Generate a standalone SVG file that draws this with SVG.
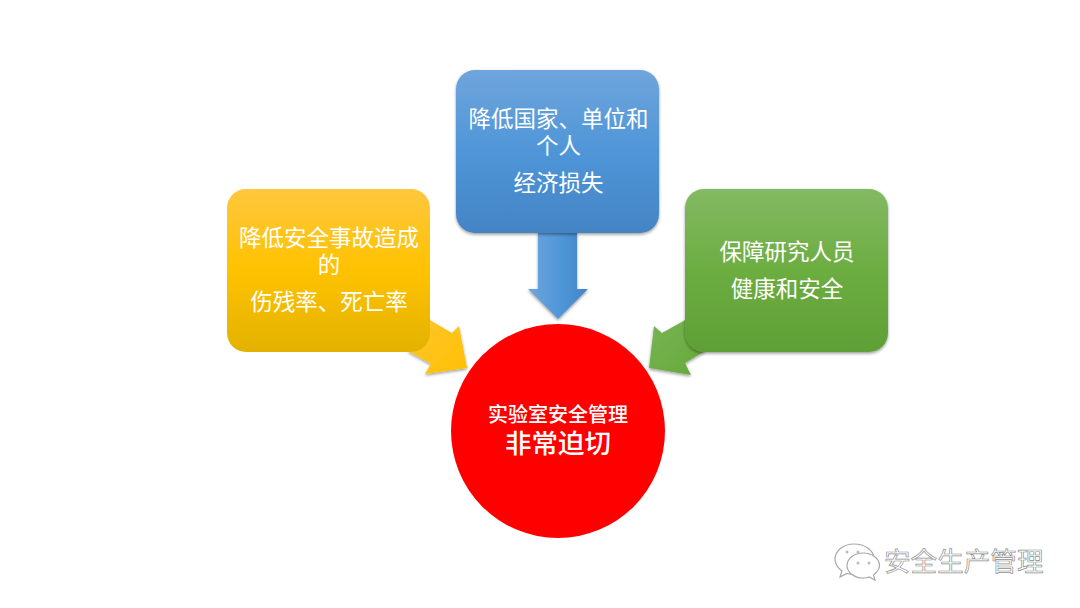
<svg xmlns="http://www.w3.org/2000/svg" width="1080" height="608" viewBox="0 0 1080 608">
<style>
text{font-family:"Liberation Serif","Noto Sans CJK SC",serif;fill:#fff;text-anchor:middle}
.t{font-size:22.5px}
.wm{fill:#fff;stroke:#a8a8a8;stroke-width:1.2}
.wt{font-family:"Noto Sans CJK SC",sans-serif;font-size:26.6px;fill:#fff;stroke:#8f8f8f;stroke-width:.7;text-anchor:start}
</style>
<defs>
<linearGradient id="y" x1="0" y1="0" x2="0" y2="1"><stop offset="0" stop-color="#ffc73f"/><stop offset=".5" stop-color="#ffc200"/><stop offset="1" stop-color="#e3b200"/></linearGradient>
<linearGradient id="b" x1="0" y1="0" x2="0" y2="1"><stop offset="0" stop-color="#6fa5dc"/><stop offset=".5" stop-color="#4f96d8"/><stop offset="1" stop-color="#4484c4"/></linearGradient>
<linearGradient id="g" x1="0" y1="0" x2="0" y2="1"><stop offset="0" stop-color="#83b963"/><stop offset=".5" stop-color="#6cad41"/><stop offset="1" stop-color="#5f9f36"/></linearGradient>
<linearGradient id="by" x1="0" y1="0" x2="1" y2="1"><stop offset="0" stop-color="#ffc530"/><stop offset="1" stop-color="#ffc000"/></linearGradient>
<linearGradient id="bb" x1="0" y1="0" x2="1" y2="0"><stop offset="0" stop-color="#6fa5dc"/><stop offset=".55" stop-color="#4f96d8"/><stop offset="1" stop-color="#4484c4"/></linearGradient>
<linearGradient id="bg" x1="0" y1="0" x2="1" y2="1"><stop offset="0" stop-color="#78b454"/><stop offset="1" stop-color="#66a93a"/></linearGradient>
<filter id="s" x="-10%" y="-10%" width="120%" height="120%"><feDropShadow dx="0" dy="1.500" stdDeviation="1.500" flood-color="#000" flood-opacity=".4"/></filter>
</defs>
<g id="connectors">
<path d="M428 319L452 333L459 326L467 368L425 374L431 364L408 351Z" fill="url(#by)" filter="url(#s)"/>
<path d="M538 232H577V289H588L558 319L528 289H538Z" fill="url(#bb)" filter="url(#s)"/>
<path d="M687 319L662 333L654 326L649 368L691 375L685 363L705 351Z" fill="url(#bg)" filter="url(#s)"/>
</g>
<g id="node-yellow">
<rect x="227" y="189" width="203" height="163" rx="19" fill="url(#y)"/>
<text class="t" x="329" y="246">降低安全事故造成</text>
<text class="t" x="329" y="273">的</text>
<text class="t" x="329" y="310">伤残率、死亡率</text>
</g>
<g id="node-blue">
<rect x="456" y="70" width="203" height="163" rx="19" fill="url(#b)" filter="url(#s)"/>
<text class="t" x="558.500" y="127">降低国家、单位和</text>
<text class="t" x="558.500" y="154">个人</text>
<text class="t" x="558.500" y="191">经济损失</text>
</g>
<g id="node-green">
<rect x="685" y="189" width="203" height="163" rx="19" fill="url(#g)" filter="url(#s)"/>
<text class="t" x="787" y="260">保障研究人员</text>
<text class="t" x="787" y="297">健康和安全</text>
</g>
<g id="node-red">
<circle cx="558" cy="431" r="107" fill="#f00"/>
<text x="558" y="422" font-size="20" font-weight="500">实验室安全管理</text>
<text x="558" y="453" font-size="26.500" font-weight="500">非常迫切</text>
</g>
<g id="watermark">
<path class="wm" d="M854 544c-11 0-19 7-19 15 0 5 3 9 7 12l-2 6 7-3.500c3 1 5 1 8 1 10 0 19-7 19-15.500s-9-15-20-15z"/>
<path class="wm" d="M863 553c-9 0-16 6-16 12.500s7 12.500 16 12.500c2 0 4 0 6-1l6 3-1.500-5c3-2.500 6-5.500 6-9.500 0-6.500-7-12.500-16.500-12.500z"/>
<circle cx="847" cy="552" r="1.500" fill="#bbb"/><circle cx="858" cy="552" r="1.500" fill="#bbb"/>
<circle cx="858" cy="563" r="1.500" fill="#bbb"/><circle cx="869" cy="563" r="1.500" fill="#bbb"/>
<text class="wt" x="884" y="571">安全生产管理</text>
</g>
</svg>
